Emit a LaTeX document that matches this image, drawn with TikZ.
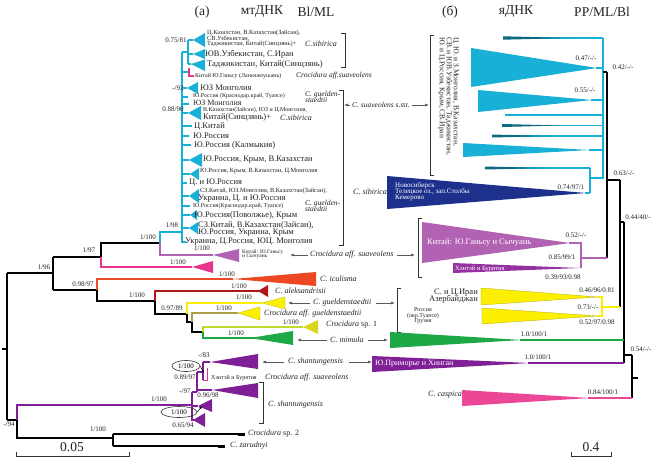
\documentclass[tikz,border=0pt]{standalone}
\usepackage{fontspec}
\setmainfont{Liberation Serif}
\usetikzlibrary{arrows.meta,shapes.geometric}
\newcommand\fsz[1]{\fontsize{#1}{#1}\selectfont}
\definecolor{cy}{RGB}{24,176,214}
\definecolor{nv}{RGB}{28,48,140}
\definecolor{orc}{RGB}{178,98,178}
\definecolor{mag}{RGB}{232,52,140}
\definecolor{rd}{RGB}{236,72,36}
\definecolor{drd}{RGB}{176,24,24}
\definecolor{yl}{RGB}{252,240,0}
\definecolor{olv}{RGB}{170,160,70}
\definecolor{ylg}{RGB}{190,220,40}
\definecolor{ylt}{RGB}{215,215,30}
\definecolor{gr}{RGB}{30,168,70}
\definecolor{pu}{RGB}{128,32,150}
\definecolor{pk}{RGB}{236,70,150}
\definecolor{hx}{RGB}{150,50,160}
\definecolor{txt}{RGB}{35,35,35}
\tikzset{
  lab/.style={inner sep=0pt, font=\fsz{7}, text=txt},
  loc/.style={inner sep=0pt, anchor=west, font=\fsz{8.5}, text=txt},
  sloc/.style={inner sep=0pt, anchor=west, font=\fsz{6.3}, text=txt},
  spn/.style={inner sep=0pt, font=\fsz{8}\itshape, text=txt},
  wt/.style={inner sep=0pt, anchor=west, text=white},
  ttl/.style={inner sep=0pt, font=\fsz{13.5}, text=txt},
  br/.style={line width=1.5pt, draw=#1, line join=miter},
  br/.default=black,
  arr/.style={-{Latex[length=4pt,width=3pt]}, draw=gray!70!black, line width=0.6pt},
  brk/.style={line width=0.7pt, draw=black!80},
  elli/.style={draw=black!80, line width=0.6pt, ellipse, inner sep=0pt}
}
\begin{document}
\begin{tikzpicture}[x=1pt,y=-1pt]
\useasboundingbox (0,0) rectangle (655,461);
\fill[white] (0,0) rectangle (655,461);

% ---------- titles ----------
\node[ttl] (ta) at (202,12) {(а)};
\node[ttl] (tb) at (262,12) {мтДНК};
\node[ttl] (tc) at (316,12) {Bl/ML};
\node[ttl] (td) at (450,12) {(б)};
\node[ttl] (te) at (516,12) {яДНК};
\node[ttl] (tf) at (602,12) {PP/ML/Bl};

% ================= LEFT TREE (a) =================
\draw[br] (2,349)--(7,349);
\draw[br] (7,273)--(7,420);
\draw[br] (7,273)--(53,273);
\draw[br] (53,257)--(53,290);
\draw[br] (53,257)--(101,257)--(101,243)--(160,243);
\draw[br=mag] (101,257)--(101,267)--(192,267);
\fill[mag] (192,267)--(213,261)--(213,273)--cycle;
\draw[br=cy] (160,243)--(160,232)--(182,232);
\draw[br=orc] (160,243)--(160,255)--(213,255);
\fill[orc] (213,255)--(239,249)--(239,262)--cycle;
\draw[br] (53,290)--(97,290);
\draw[br=rd] (97,290)--(97,279)--(233,279);
\fill[rd] (233,279)--(316,272)--(316,286)--cycle;
\draw[br] (97,290)--(97,301)--(155,301);
\draw[br=drd] (155,301)--(155,291)--(259,291);
\fill[drd] (258,291)--(268,285)--(268,297)--cycle;
\draw[br] (155,301)--(155,314)--(187,314);
\draw[br=yl] (187,314)--(187,303)--(262,303);
\filldraw[fill=yl, draw=yl!75!black, line width=0.3pt] (262,303)--(285,297)--(285,309)--cycle;
\draw[br] (187,314)--(187,322)--(192,322);
\draw[br=olv] (192,322)--(192,313)--(238,313);
\filldraw[fill=yl, draw=yl!75!black, line width=0.3pt] (238,313)--(260,307)--(260,320)--cycle;
\draw[br] (192,322)--(192,332)--(203,332);
\draw[br=ylg] (203,332)--(203,327)--(303,327);
\fill[ylt] (303,327)--(318,320)--(318,334)--cycle;
\draw[br=gr] (203,332)--(203,338)--(293,338);
\fill[gr] (250,338)--(293,331)--(293,345)--cycle;

% cyan clade (C. suaveolens s.str.)
\draw[br=cy] (182,52)--(182,243);
\draw[br=cy] (182,52)--(188,52);
\draw[br=cy] (188,40)--(188,64);
\draw[br=cy] (188,40)--(193,40);
\fill[cy] (193,40)--(205,33)--(205,47)--cycle;
\draw[br=cy] (188,54)--(193,54);
\fill[cy] (193,54)--(205,49)--(205,59)--cycle;
\draw[br=cy] (188,64)--(191,64);
\fill[cy] (191,64)--(205,59.5)--(205,71)--cycle;
\draw[br=cy] (182,72)--(189,72);
\draw[mag, line width=1.2pt] (189,68)--(189,76)--(194,76);
\draw[br=cy] (182,88)--(187,88);
\fill[cy] (187,88)--(198,82)--(198,94)--cycle;
\draw[br=cy] (182,97)--(188,97);
\draw[br=cy] (182,104)--(189,104);
\draw[br=cy] (182,113)--(188,113);
\fill[cy] (188,113)--(201,106)--(201,120)--cycle;
\draw[br=cy] (182,126)--(192,126);
\draw[br=cy] (182,136)--(189,136);
\draw[br=cy] (182,145)--(191,145);
\draw[br=cy] (182,160)--(189,160);
\fill[cy] (189,160)--(202,153)--(202,167)--cycle;
\draw[br=cy] (182,174)--(190,174);
\fill[cy] (190,174)--(199,168)--(199,180)--cycle;
\draw[br=cy] (182,183)--(187,183);
\draw[br=cy] (182,196)--(189,196);
\fill[cy] (189,196)--(199,189)--(199,203)--cycle;
\draw[br=cy] (182,206)--(190,206);
\draw[br=cy] (182,215)--(190,215);
\fill[cy] (190,215)--(197,210)--(197,220)--cycle;
\draw[br=cy] (182,228)--(189,228);
\fill[cy] (189,228)--(198,222)--(198,234)--cycle;
\draw[br=cy] (182,242)--(186,242);

% shantungensis clade and outgroups
\draw[br] (7,420)--(17,420);
\draw[br=pu] (17,420)--(17,405)--(192,405);
\draw[br] (17,420)--(17,438)--(113,438);
\draw[br] (113,434)--(113,446);
\draw[br] (113,434)--(245,434);
\draw[black, line width=3pt] (238,434)--(245,434);
\draw[br] (113,446)--(225,446);
\draw[black, line width=3pt] (218,446)--(225,446);
\draw[br=pu] (192,392)--(192,420)--(194,420);
\draw[br=pu] (192,406)--(198,406);
\fill[pu] (198,406)--(212,399)--(212,412)--cycle;
\fill[pu] (193,420)--(205,413)--(205,427)--cycle;
\draw[br=pu] (192,392)--(197,392);
\draw[br=pu] (197,372)--(197,392);
\draw[br=pu] (197,390)--(212,390);
\fill[pu] (212,390)--(258,383)--(258,398)--cycle;
\draw[br=pu] (197,372)--(203,372);
\draw[br=pu] (203,362)--(203,380);
\draw[br=pu] (203,362)--(210,362);
\fill[pu] (210,362)--(258,354)--(258,369)--cycle;
\draw[mag, line width=1pt] (203,380)--(207,380)--(207,368);

% support values (a)
\node[lab] (s1) at (176,40) {0.75/81};
\node[lab] (s2) at (178,88) {-/92};
\node[lab] (s3) at (173,109) {0.88/90};
\node[lab] (s4) at (172,225) {1/98};
\node[lab] (s5) at (148,237) {1/100};
\node[lab] (s6) at (202,248) {1/100};
\node[lab] (s7) at (89,250) {1/97};
\node[lab] (s8) at (178,262) {1/100};
\node[lab] (s9) at (44,267) {1/96};
\node[lab] (s10) at (227,274) {1/100};
\node[lab] (s11) at (83,284) {0.98/97};
\node[lab] (s12) at (239,286) {1/100};
\node[lab] (s13) at (137,295) {1/100};
\node[lab] (s14) at (244,297) {1/100};
\node[lab] (s15) at (172,308) {0.97/89};
\node[lab] (s16) at (224,308) {1/100};
\node[lab] (s17) at (291,322) {1/100};
\node[lab] (s18) at (236,333) {1/100};
\node[lab] (s19) at (159,399) {1/100};
\node[lab] (s20) at (9,424) {-/94};
\node[lab] (s21) at (98,429) {1/100};
\node[lab] (s22) at (204,355) {-/83};
\node[lab] (s23) at (185,377) {0.89/97};
\node[lab] (s24) at (185,391) {-/97};
\node[lab] (s25) at (208,395) {0.96/98};
\node[lab] (s26) at (183,425) {0.65/94};
\node[elli, minimum width=28pt, minimum height=11pt, font=\fsz{7}] (e1) at (186,366) {1/100};
\node[elli, minimum width=36pt, minimum height=11pt, font=\fsz{7}] (e2) at (179,412) {1/100};
\coordinate (e1t) at (204,373);
\coordinate (e2t) at (202,406);
\draw[-{Latex[length=3pt,width=2.5pt]}, line width=0.5pt] (e1.east) -- (e1t);
\draw[-{Latex[length=3pt,width=2.5pt]}, line width=0.5pt] (e2.east) -- (e2t);

% locality labels (a)
\node[sloc] (l1) at (207,33) {Ц.Казахстан, В.Казахстан(Зайсан),};
\node[sloc] (l2) at (207,38.5) {СВ.Узбекистан,};
\node[sloc] (l3) at (207,44) {Таджикистан, Китай(Синцзянь)+};
\node[spn, anchor=west] (l3s) at (305,44) {C.sibirica};
\node[loc] (l4) at (205,54) {ЮВ.Узбекистан, С.Иран};
\node[loc] (l5) at (207,64) {Таджикистан, Китай(Синцзянь)};
\node[sloc, font=\fsz{6}] (l6) at (195,76) {Китай Ю.Ганьсу (Ланьчжоушань)};
\node[spn, anchor=west, font=\fsz{7.5}\itshape] (l6s) at (296,76) {Crocidura aff.suaveolens};
\node[loc] (l7) at (200,88) {ЮЗ Монголия};
\node[sloc, font=\fsz{6}] (l8) at (193,96.5) {Ю.Россия (Краснодар.край, Туапсе)};
\node[spn, anchor=west, align=left, font=\fsz{7.5}\itshape] (l8s) at (305,97) {C. guelden-\\[-1pt]staedtii};
\node[loc, font=\fsz{8}] (l9) at (193,103) {ЮЗ Монголия};
\node[sloc, font=\fsz{6}] (l10) at (203,110.5) {В.Казахстан(Зайсан), ЮЗ и Ц.Монголия,};
\node[loc] (l11) at (203,117.5) {Китай(Синцзянь)+};
\node[spn, anchor=west] (l11s) at (280,117.5) {C.sibirica};
\node[loc] (l12) at (194,126) {Ц.Китай};
\node[loc] (l13) at (193,136) {Ю.Россия};
\node[loc] (l14) at (194,145) {Ю.Россия (Калмыкия)};
\node[loc] (l15) at (203,160) {Ю.Россия, Крым, В.Казахстан};
\node[sloc] (l16) at (200,171) {Ю.Россия, Крым, В.Казахстан, Ц.Монголия};
\node[loc] (l17) at (189,183) {Ц. и Ю.Россия};
\node[sloc] (l18) at (200,191) {СЗ.Китай, ЮЗ.Монголия, В.Казахстан(Зайсан),};
\node[loc] (l19) at (198,199) {Украина, Ц. и Ю.Россия};
\node[spn, anchor=west, align=left, font=\fsz{7.5}\itshape] (l19s) at (305,206) {C. guelden-\\[-1pt]staedtii};
\node[sloc, font=\fsz{6}] (l20) at (193,206.5) {Ю.Россия(Краснодар.край, Туапсе)};
\node[loc] (l21) at (194,215) {Ю.Россия(Поволжье), Крым};
\node[loc] (l22) at (198,225) {СЗ.Китай, В.Казахстан(Зайсан),};
\node[loc] (l23) at (198,233) {Ю.Россия, Украина, Крым};
\node[loc] (l24) at (185,242) {Украина, Ц.Россия, ЮЦ. Монголия};
\node[sloc, font=\fsz{5.5}, align=left] (l25) at (242,254) {Китай: Ю.Ганьсу\\[-1pt]и Сычуань};
\node[sloc, font=\fsz{6}] (l26) at (211,378) {Хэнтэй и Бурятия};

% species labels (middle)
\node[spn, anchor=west] (m1) at (320,279) {C. iculisma};
\node[spn, anchor=west] (m2) at (275,291) {C. aleksandrisii};
\node[spn, anchor=west] (m3) at (313,303) {C. gueldenstaedtii};
\node[spn, anchor=west] (m4) at (264,314) {Crocidura aff. gueldenstaedtii};
\node[spn, anchor=west] (m5) at (326,325) {Crocidura \upshape sp. 1};
\node[spn, anchor=west] (m6) at (330,340) {C. mimula};
\node[spn, anchor=west] (m7) at (288,362) {C. shantungensis};
\node[spn, anchor=west] (m8) at (265,378) {Crocidura aff. suaveolens};
\node[spn, anchor=west] (m9) at (268,405) {C. shantungensis};
\node[spn, anchor=west] (m10) at (248,434) {Crocidura \upshape sp. 2};
\node[spn, anchor=west] (m11) at (230,446) {C. zarudnyi};
\node[spn, anchor=west] (m12) at (310,255) {Crocidura aff. suaveolens};
\node[spn, anchor=west, font=\fsz{7.5}] (m13) at (352,105) {\itshape C. suaveolens \upshape s.str.};
\node[spn, anchor=west] (m14) at (353,192) {C. sibirica};
\node[spn, anchor=west] (m15) at (428,395) {C. caspica};

% brackets
\draw[brk] (341,33)--(345,33)--(345,67)--(341,67);
\draw[brk] (339,90)--(343,90)--(343,245)--(339,245);
\draw[brk] (434,35)--(430,35)--(430,175)--(434,175);
\draw[brk] (422,218)--(418,218)--(418,277)--(422,277);
\draw[brk] (401,288)--(397,288)--(397,332)--(401,332);
\draw[brk] (259,382)--(263,382)--(263,423)--(259,423);

% arrows
\coordinate (a1) at (344,105);
\coordinate (a2) at (429,105);
\coordinate (a3) at (290,255);
\coordinate (a4) at (415,255);
\coordinate (a5) at (288,303);
\coordinate (a6) at (395,303);
\coordinate (a7) at (297,340);
\coordinate (a8) at (388,340);
\coordinate (a9) at (262,362);
\coordinate (a10) at (372,362);
\draw[arr] (m13.west) ++(-2,0) -- (a1);
\draw[arr] (m13.east) ++(2,0) -- (a2);
\draw[arr] (m12.west) ++(-2,0) -- (a3);
\draw[arr] (m12.east) ++(3,0) -- (a4);
\draw[arr] (m3.west) ++(-3,0) -- (a5);
\draw[arr] (m3.east) ++(4,0) -- (a6);
\draw[arr] (m6.west) ++(-3,0) -- (a7);
\draw[arr] (m6.east) ++(4,0) -- (a8);
\draw[arr] (m7.west) ++(-4,0) -- (a9);
\draw[arr] (m7.east) ++(6,0) -- (a10);

% rotated locality text (b)
\node[rotate=-90, anchor=north west, inner sep=0pt, align=left, font=\fsz{7.5}, text=txt] (rt) at (459,37)
  {Ц. Ю. и З.Монголия, В.Казахстан,\\[-0.5pt] СВ. и ЮВ.Узбекистан, Таджикистан,\\[-0.5pt] Ю. и Ц.Россия, Крым, СВ.Иран};

% ================= RIGHT TREE (б) =================
\draw[br=cy] (603,38)--(603,178)--(590,178);
\draw[br=cy] (503,38)--(603,38);
\fill[cy!60!black] (503,36.3)--(503,39.7)--(570,38)--cycle;
\fill[cy] (597,68)--(471,48)--(471,87)--cycle;
\draw[br=cy] (596,68)--(603,68);
\fill[cy] (592,100)--(478,90)--(478,112)--cycle;
\draw[br=cy] (591,100)--(603,100);
\draw[br=cy] (505,115)--(603,115);
\draw[br=cy] (502,125.5)--(603,125.5);
\fill[cy!60!black] (502,124)--(502,127)--(560,125.5)--cycle;
\draw[br=cy] (492,136)--(603,136);
\fill[cy!60!black] (492,134.5)--(492,137.5)--(550,136)--cycle;
\fill[cy] (590,150)--(463,143)--(463,157)--cycle;
\draw[br=cy] (589,150)--(603,150);
\draw[br=cy] (485,168)--(590,168);
\fill[cy!60!black] (485,166.5)--(485,169.5)--(545,168)--cycle;
\draw[br=cy] (590,168)--(590,193);
\fill[nv] (586,193)--(387,176)--(387,209)--cycle;
\draw[br=cy] (585,193)--(590,193);
\draw[br] (603,72)--(607,72);
\draw[br] (607,72)--(607,258);
\draw[br] (607,180)--(620,180);
\draw[br] (620,180)--(620,307);
\draw[br] (620,222)--(624,222);
\draw[br] (624,222)--(624,363);
\draw[br] (624,355)--(632,355);
\draw[br] (632,355)--(632,398);
\draw[br] (632,378)--(638,378);

% purple clade
\fill[orc] (570,243)--(422,222)--(422,263)--cycle;
\draw[br=orc] (569,243)--(581,243)--(581,268);
\fill[hx] (580,268)--(453,263)--(453,273)--cycle;
\draw[br=orc] (581,258)--(607,258);
% yellow clade
\filldraw[fill=yl, draw=yl!70!black, line width=0.3pt] (598,297)--(481,288)--(481,305)--cycle;
\filldraw[fill=yl, draw=yl!70!black, line width=0.3pt] (598,316)--(482,308)--(482,324)--cycle;
\draw[br=yl] (597,297)--(602,297)--(602,316)--(597,316);
\draw[br=yl] (602,307)--(620,307);
% green
\fill[gr] (522,340)--(390,332)--(390,348)--cycle;
\draw[br=gr] (520,340)--(624,340);
% purple Primorye
\fill[pu] (530,363)--(372,356)--(372,372)--cycle;
\draw[br=pu] (528,363)--(624,363);
% caspica
\fill[pk] (590,398)--(462,390)--(462,406)--cycle;
\draw[br=pk] (588,398)--(632,398);

% white texts in triangles
\node[wt, font=\fsz{7}, align=left] (w1) at (395,192) {Новосибирск\\[-1pt]Телецкое оз., зап.Столбы\\[-1pt]Кемерово};
\node[wt, font=\fsz{8.5}] (w2) at (427,243) {Китай: Ю.Ганьсу и Сычуань};
\node[wt, font=\fsz{6.5}] (w3) at (455,269) {Хэнтэй и Бурятия};
\node[wt, font=\fsz{8}] (w4) at (375,364) {Ю.Приморье и Хинган};

% yellow clade labels
\node[inner sep=0pt, anchor=east, font=\fsz{8.5}, text=txt, align=right] (y1) at (478,296) {С. и Ц.Иран\\[-1.5pt]Азербайджан};
\node[inner sep=0pt, font=\fsz{6}, text=txt, align=center] (y2) at (423,316) {Россия\\[-0.5pt](окр.Туапсе)\\[-0.5pt]Грузия};

% support values (б)
\node[lab] (r1) at (586,58) {0.47/-/-};
\node[lab] (r2) at (623,67) {0.42/-/-};
\node[lab] (r3) at (585,90) {0.55/-/-};
\node[lab] (r4) at (624,173) {0.63/-/-};
\node[lab] (r5) at (571,187) {0.74/97/1};
\node[lab] (r6) at (638,217) {0.44/40/-};
\node[lab] (r7) at (576,235) {0.52/-/-};
\node[lab] (r8) at (562,257) {0.85/99/1};
\node[lab] (r9) at (563,277) {0.39/93/0.98};
\node[lab] (r10) at (597,290) {0.46/96/0.81};
\node[lab] (r11) at (588,307) {0.73/-/-};
\node[lab] (r12) at (597,322) {0.52/97/0.98};
\node[lab] (r13) at (534,334) {1.0/100/1};
\node[lab] (r14) at (538,357) {1.0/100/1};
\node[lab] (r15) at (641,349) {0.54/-/-};
\node[lab] (r16) at (603,392) {0.84/100/1};

% scale bars
\draw[line width=0.7pt, black!80] (16,452)--(16,456)--(129,456)--(129,452);
\node[ttl] (sb1) at (72,447) {0.05};
\draw[line width=0.7pt, black!80] (571,452)--(571,456)--(611,456)--(611,452);
\node[ttl] (sb2) at (591,447) {0.4};
\end{tikzpicture}
\end{document}
